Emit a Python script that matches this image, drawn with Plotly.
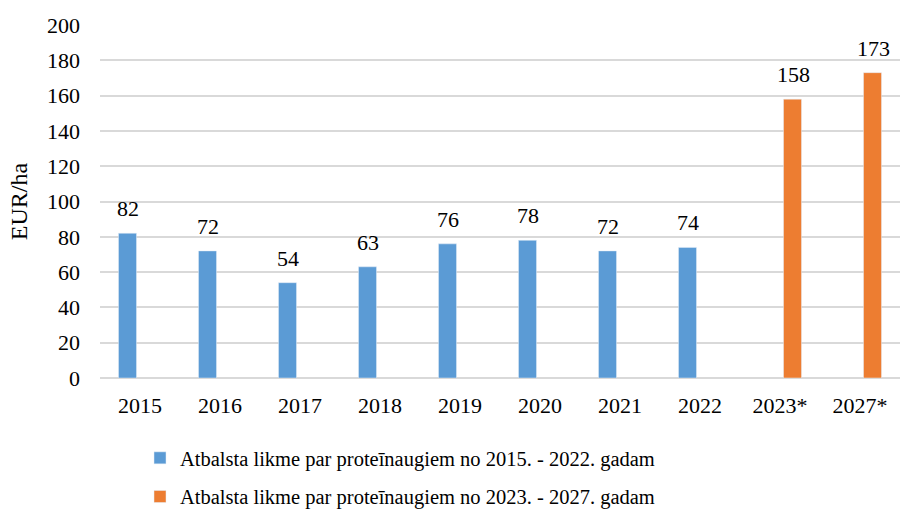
import plotly.graph_objects as go

categories = ["2015", "2016", "2017", "2018", "2019", "2020", "2021", "2022", "2023*", "2027*"]
series1_name = "Atbalsta likme par proteīnaugiem no 2015. - 2022. gadam"
series1 = [82, 72, 54, 63, 76, 78, 72, 74, None, None]
series2_name = "Atbalsta likme par proteīnaugiem no 2023. - 2027. gadam"
series2 = [None, None, None, None, None, None, None, None, 158, 173]
y_ticks = [0, 20, 40, 60, 80, 100, 120, 140, 160, 180, 200]

FONT = "Liberation Serif"

fig = go.Figure()
fig.add_trace(go.Bar(
    x=categories, y=series1, name=series1_name,
    marker=dict(color="#5B9BD5"), legendgroup="a",
))
fig.add_trace(go.Bar(
    x=categories, y=series2, name=series2_name,
    marker=dict(color="#ED7D31"), legendgroup="b",
))

# value labels above bars (placed through the category axis by index)
for vals, xs in ((series1, -12), (series2, 13)):
    for i, v in enumerate(vals):
        if v is None:
            continue
        fig.add_annotation(
            x=i, y=v, xref="x", yref="y", text=str(v), showarrow=False,
            yanchor="bottom", yshift=10, xshift=xs,
            font=dict(size=22, family=FONT, color="#000000"),
        )

fig.update_layout(
    width=901, height=513,
    margin=dict(l=100, r=1, t=25, b=135, autoexpand=False),
    paper_bgcolor="white", plot_bgcolor="white",
    barmode="group", bargap=0.375, bargroupgap=0.28,
    font=dict(family=FONT, size=20, color="#000000"),
    showlegend=True,
    legend=dict(
        orientation="v", x=0.05, xanchor="left", y=-0.17, yanchor="top",
        font=dict(size=20.5, family=FONT), tracegroupgap=9,
        bgcolor="rgba(0,0,0,0)",
    ),
    xaxis=dict(
        type="category", categoryorder="array", categoryarray=categories,
        range=[-0.5, len(categories) - 0.5],
        showgrid=False, showline=False, ticks="", ticklabelstandoff=12,
        tickfont=dict(size=22, family=FONT), automargin=False,
    ),
    yaxis=dict(
        range=[0, 200], tickvals=y_ticks, showgrid=True, gridcolor="#D9D9D9", gridwidth=1.5,
        zeroline=True, zerolinecolor="#D9D9D9", zerolinewidth=1.5,
        showline=False, ticks="", ticklabelstandoff=19, automargin=False,
        tickfont=dict(size=22, family=FONT),
        title=dict(text="EUR/ha", font=dict(size=24, family=FONT), standoff=12),
    ),
)

fig.write_html(
    "out.html",
    config={"displayModeBar": False},
    post_script="document.body.style.margin='0';document.body.style.padding='0';",
)
